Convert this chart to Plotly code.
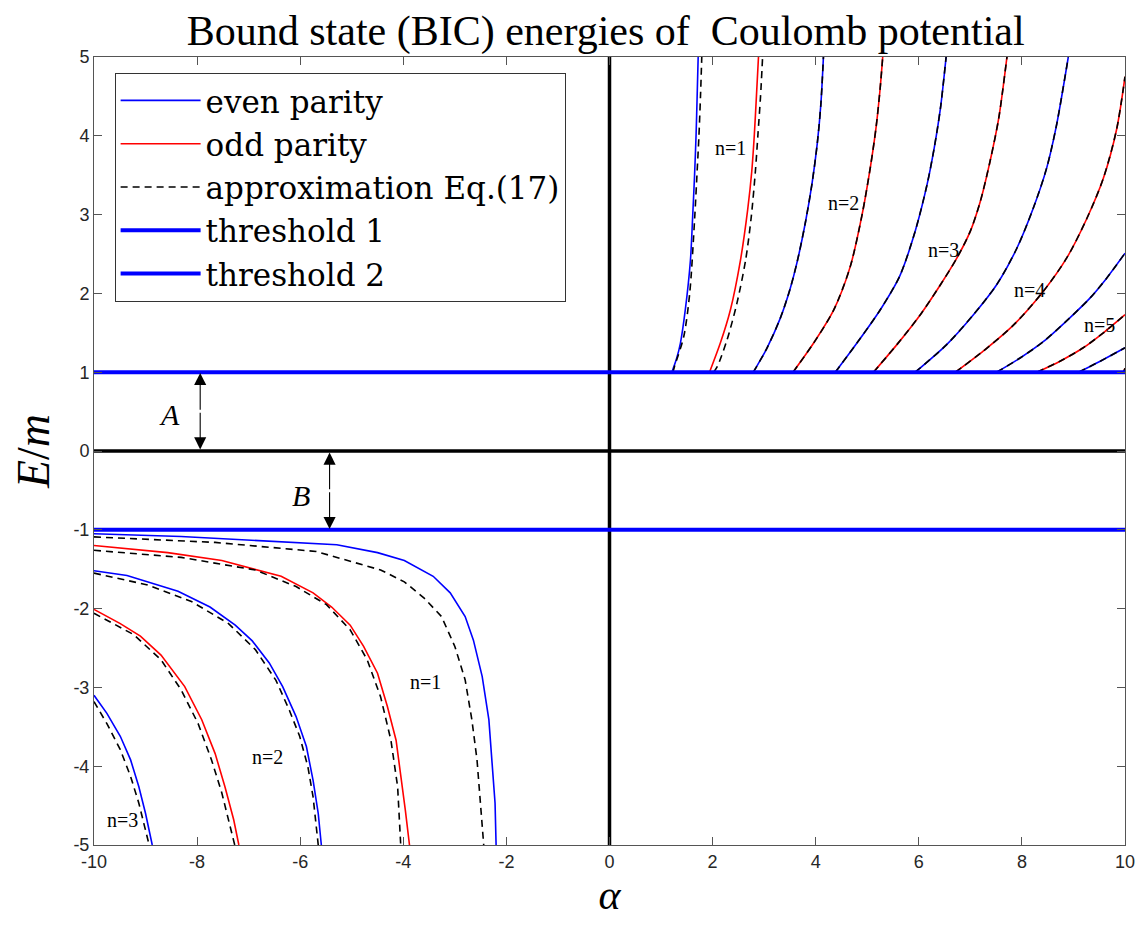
import plotly.graph_objects as go

# ---------------- data ----------------
title_text = "Bound state (BIC) energies of  Coulomb potential"
x_ticks = [-10, -8, -6, -4, -2, 0, 2, 4, 6, 8, 10]
y_ticks = [-5, -4, -3, -2, -1, 0, 1, 2, 3, 4, 5]

# upper branch (alpha > 0, E > 1)
up_even1_a = [1.21, 1.30, 1.376, 1.47, 1.57, 1.615, 1.65, 1.68, 1.70, 1.72]
up_even1_E = [1.0, 1.17, 1.37, 1.79, 2.42, 3.0, 3.5, 4.02, 4.5, 5.0]
up_even1_apx_a = [1.23, 1.26, 1.44, 1.556, 1.65, 1.70, 1.735, 1.765, 1.79]
up_even1_apx_E = [1.0, 1.07, 1.45, 2.0, 2.93, 3.55, 4.0, 4.5, 5.0]
up_odd1_a = [1.94, 2.15, 2.345, 2.54, 2.68, 2.76, 2.81, 2.85, 2.89]
up_odd1_E = [1.0, 1.37, 1.79, 2.42, 3.06, 3.55, 4.02, 4.5, 5.0]
up_odd1_apx_a = [2.02, 2.09, 2.28, 2.47, 2.64, 2.75, 2.83, 2.88, 2.93, 2.97]
up_odd1_apx_E = [1.0, 1.07, 1.41, 1.87, 2.42, 2.97, 3.55, 4.02, 4.5, 5.0]
up_even2_a = [2.79, 3.05, 3.31, 3.50, 3.64, 3.80, 3.93, 4.03, 4.10, 4.15]
up_even2_E = [1.0, 1.30, 1.68, 2.05, 2.40, 2.90, 3.40, 3.90, 4.40, 5.0]
up_odd2_a = [3.56, 3.96, 4.35, 4.67, 4.90, 5.06, 5.17, 5.25, 5.30]
up_odd2_E = [1.0, 1.37, 1.79, 2.34, 3.0, 3.6, 4.1, 4.6, 5.0]
up_even3_a = [4.38, 4.80, 5.25, 5.63, 5.93, 6.16, 6.30, 6.42, 6.53]
up_even3_E = [1.0, 1.37, 1.79, 2.22, 2.79, 3.38, 3.85, 4.35, 5.0]
up_odd3_a = [5.12, 5.575, 6.03, 6.42, 6.74, 7.00, 7.19, 7.38, 7.55, 7.71]
up_odd3_E = [1.0, 1.35, 1.73, 2.11, 2.45, 2.79, 3.16, 3.67, 4.22, 5.0]
up_even4_a = [5.93, 6.54, 7.06, 7.51, 7.90, 8.22, 8.48, 8.67, 8.90]
up_even4_E = [1.0, 1.35, 1.73, 2.11, 2.57, 3.08, 3.59, 4.13, 5.0]
up_odd4_a = [6.71, 7.255, 7.84, 8.42, 8.87, 9.26, 9.58, 9.84, 10.0]
up_odd4_E = [1.0, 1.27, 1.60, 2.03, 2.45, 2.95, 3.46, 4.09, 4.75]
up_even5_a = [7.51, 7.965, 8.42, 8.93, 9.32, 9.64, 10.0]
up_even5_E = [1.0, 1.18, 1.39, 1.69, 1.94, 2.19, 2.51]
up_odd5_a = [8.29, 8.74, 9.19, 9.58, 10.0]
up_odd5_E = [1.0, 1.14, 1.31, 1.50, 1.73]
up_even6_a = [9.10, 9.52, 10.0]
up_even6_E = [1.0, 1.14, 1.31]
up_odd6_a = [9.97, 10.0]
up_odd6_E = [1.0, 1.05]

# lower branch (alpha < 0, E < -1)
lo_even1_a = [-10, -8.31, -5.29, -4.50, -3.98, -3.42, -3.09, -2.80, -2.64, -2.47, -2.34, -2.28, -2.22, -2.20]
lo_even1_E = [-1.05, -1.085, -1.19, -1.29, -1.39, -1.59, -1.80, -2.10, -2.40, -2.86, -3.41, -3.92, -4.47, -5.0]
lo_even1_apx_a = [-10, -7.65, -5.69, -4.44, -3.98, -3.59, -3.26, -3.00, -2.80, -2.67, -2.57, -2.50, -2.44]
lo_even1_apx_E = [-1.09, -1.16, -1.275, -1.51, -1.66, -1.87, -2.10, -2.48, -2.905, -3.41, -3.92, -4.47, -5.0]
lo_odd1_a = [-10, -8.57, -7.52, -6.37, -5.75, -5.39, -5.03, -4.77, -4.50, -4.31, -4.14, -4.05, -3.96, -3.88]
lo_odd1_E = [-1.20, -1.29, -1.39, -1.59, -1.80, -1.98, -2.21, -2.48, -2.82, -3.24, -3.67, -4.09, -4.56, -5.0]
lo_odd1_apx_a = [-10, -8.31, -6.87, -6.08, -5.49, -5.03, -4.70, -4.44, -4.24, -4.11, -4.05]
lo_odd1_apx_E = [-1.26, -1.35, -1.51, -1.72, -1.95, -2.27, -2.65, -3.12, -3.67, -4.26, -5.0]
lo_even2_a = [-10, -9.36, -8.37, -7.75, -7.26, -6.93, -6.60, -6.34, -6.08, -5.88, -5.75, -5.65, -5.59]
lo_even2_E = [-1.52, -1.58, -1.78, -1.98, -2.21, -2.41, -2.69, -2.99, -3.37, -3.75, -4.18, -4.60, -5.0]
lo_even2_apx_a = [-10, -8.96, -8.11, -7.39, -6.87, -6.47, -6.21, -6.01, -5.85, -5.75, -5.65]
lo_even2_apx_E = [-1.55, -1.70, -1.91, -2.19, -2.52, -2.91, -3.29, -3.62, -4.01, -4.39, -5.0]
lo_odd2_a = [-10, -9.49, -9.10, -8.70, -8.24, -7.91, -7.65, -7.46, -7.29, -7.19]
lo_odd2_E = [-2.01, -2.19, -2.35, -2.59, -2.99, -3.41, -3.84, -4.26, -4.68, -5.0]
lo_odd2_apx_a = [-10, -9.23, -8.70, -8.31, -7.98, -7.72, -7.52, -7.36, -7.27]
lo_odd2_apx_E = [-2.06, -2.33, -2.65, -3.03, -3.46, -3.92, -4.34, -4.77, -5.0]
lo_even3_a = [-10, -9.75, -9.49, -9.29, -9.13, -9.00, -8.87]
lo_even3_E = [-3.10, -3.33, -3.62, -3.92, -4.26, -4.60, -5.0]
lo_even3_apx_a = [-10, -9.75, -9.49, -9.29, -9.13, -9.00, -8.93]
lo_even3_apx_E = [-3.18, -3.46, -3.79, -4.13, -4.47, -4.81, -5.0]

threshold1_E = 1.0
threshold2_E = -1.0

# curve labels
label_text = ["n=1", "n=2", "n=3", "n=4", "n=5", "n=1", "n=2", "n=3"]
label_a = [2.34, 4.53, 6.47, 8.15, 9.50, -3.57, -6.63, -9.44]
label_E = [3.84, 3.15, 2.55, 2.04, 1.60, -2.93, -3.88, -4.68]

# ---------------- styles ----------------
BLUE = "#0000ff"
RED = "#ff0000"
SERIF = "Liberation Serif"
LEGEND_SERIF = "DejaVu Serif"
SANS = "Liberation Sans"

upper_even = [(up_even1_a, up_even1_E), (up_even2_a, up_even2_E), (up_even3_a, up_even3_E),
              (up_even4_a, up_even4_E), (up_even5_a, up_even5_E), (up_even6_a, up_even6_E)]
upper_odd = [(up_odd1_a, up_odd1_E), (up_odd2_a, up_odd2_E), (up_odd3_a, up_odd3_E),
             (up_odd4_a, up_odd4_E), (up_odd5_a, up_odd5_E), (up_odd6_a, up_odd6_E)]
upper_apx = [(up_even1_apx_a, up_even1_apx_E), (up_odd1_apx_a, up_odd1_apx_E)] + upper_even[1:] + upper_odd[1:]
lower_even = [(lo_even1_a, lo_even1_E), (lo_even2_a, lo_even2_E), (lo_even3_a, lo_even3_E)]
lower_odd = [(lo_odd1_a, lo_odd1_E), (lo_odd2_a, lo_odd2_E)]
lower_apx = [(lo_even1_apx_a, lo_even1_apx_E), (lo_odd1_apx_a, lo_odd1_apx_E),
             (lo_even2_apx_a, lo_even2_apx_E), (lo_odd2_apx_a, lo_odd2_apx_E),
             (lo_even3_apx_a, lo_even3_apx_E)]

fig = go.Figure()

# zero axes (thick black)
fig.add_trace(go.Scatter(x=[0, 0], y=[-5, 5], mode="lines",
                         line=dict(color="black", width=3.5), showlegend=False, hoverinfo="skip"))
fig.add_trace(go.Scatter(x=[-10, 10], y=[0, 0], mode="lines",
                         line=dict(color="black", width=3.5), showlegend=False, hoverinfo="skip"))


def add_family(curves_up, curves_lo, color, dash, name, group, rank):
    first = True
    for curves, shape in ((curves_up, "spline"), (curves_lo, "linear")):
        for a, e in curves:
            line = dict(color=color, width=1.6, shape=shape)
            if shape == "spline":
                line["smoothing"] = 0.8
            if dash:
                line["dash"] = dash
            fig.add_trace(go.Scatter(x=a, y=e, mode="lines", line=line, name=name,
                                     legendgroup=group, legendrank=rank, showlegend=first))
            first = False


add_family(upper_even, lower_even, BLUE, None, "even parity", "even", 1)
add_family(upper_odd, lower_odd, RED, None, "odd parity", "odd", 2)
add_family(upper_apx, lower_apx, "black", "7px,5px", "approximation Eq.(17)", "apx", 3)

fig.add_trace(go.Scatter(x=[-10, 10], y=[threshold1_E, threshold1_E], mode="lines",
                         line=dict(color=BLUE, width=4), name="threshold 1", legendrank=4))
fig.add_trace(go.Scatter(x=[-10, 10], y=[threshold2_E, threshold2_E], mode="lines",
                         line=dict(color=BLUE, width=4), name="threshold 2", legendrank=5))

annotations = []
for t, a, e in zip(label_text, label_a, label_E):
    annotations.append(dict(x=a, y=e, xref="x", yref="y", text=t, showarrow=False,
                            font=dict(family=SERIF, size=20, color="black")))


def double_arrow(xa, y0, y1):
    mid = 0.5 * (y0 + y1)
    out = []
    for yt in (y0, y1):
        out.append(dict(x=xa, y=yt, xref="x", yref="y", ax=xa, ay=mid, axref="x", ayref="y",
                        text="", showarrow=True, arrowhead=2, arrowsize=2.2, arrowwidth=1.1,
                        arrowcolor="black", standoff=0, startstandoff=0))
    return out


annotations += double_arrow(-7.94, 0.02, 0.99)
annotations += double_arrow(-5.43, -0.02, -0.99)
annotations.append(dict(x=-8.54, y=0.46, xref="x", yref="y", text="<i>A</i>", showarrow=False,
                        font=dict(family=SERIF, size=30, color="black")))
annotations.append(dict(x=-5.99, y=-0.56, xref="x", yref="y", text="<i>B</i>", showarrow=False,
                        font=dict(family=SERIF, size=30, color="black")))

axis_common = dict(showline=True, linecolor="#555555", linewidth=1, mirror="ticks",
                   ticks="inside", ticklen=8, tickcolor="#555555", showgrid=False,
                   zeroline=False, tickfont=dict(family=SANS, size=18, color="#262626"))

fig.update_layout(
    width=1145, height=931,
    paper_bgcolor="white", plot_bgcolor="white",
    margin=dict(l=86, r=28, t=49, b=94),
    title=dict(text=title_text, x=0.522, xanchor="center", y=0.976, yanchor="middle",
               font=dict(family=SERIF, size=42, color="black")),
    xaxis=dict(range=[-10, 10], tickvals=x_ticks, ticktext=[str(v) for v in x_ticks],
               title=dict(text="<i>α</i>", font=dict(family=SERIF, size=42, color="black"),
                          standoff=6),
               **axis_common),
    yaxis=dict(range=[-5, 5], tickvals=y_ticks, ticktext=[str(v) for v in y_ticks],
               title=dict(text="<i>E</i>/<i>m</i>", font=dict(family=SERIF, size=46, color="black"),
                          standoff=18),
               **axis_common),
    legend=dict(x=0.02, y=0.98, xanchor="left", yanchor="top", bgcolor="white",
                bordercolor="#333333", borderwidth=1,
                font=dict(family=LEGEND_SERIF, size=31, color="black"),
                traceorder="normal", itemwidth=80),
    annotations=annotations,
    showlegend=True,
)

fig.write_html("out.html")
